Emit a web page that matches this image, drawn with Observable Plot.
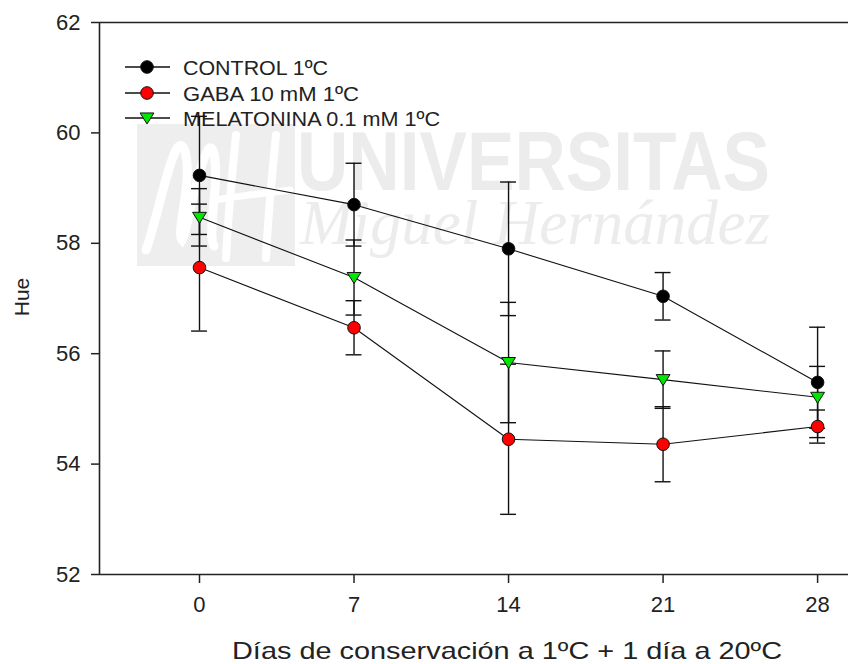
<!DOCTYPE html>
<html>
<head>
<meta charset="utf-8">
<script src="https://cdn.jsdelivr.net/npm/d3@7"></script>
<script src="https://cdn.jsdelivr.net/npm/@observablehq/plot@0.6"></script>
<style>
  html, body { margin: 0; padding: 0; background: #fff; }
  #wrap { position: relative; width: 848px; height: 664px; overflow: hidden; }
  #back, #chart { position: absolute; left: 0; top: 0; }
  #chart svg { background: transparent; }
</style>
</head>
<body>
<div id="wrap">
  <svg id="back" width="848" height="664"></svg>
  <div id="chart"></div>
</div>
<script>
// ---- data ----
const days = [0, 7, 14, 21, 28];
const seriesNames = ["CONTROL 1ºC", "GABA 10 mM  1ºC", "MELATONINA 0.1 mM 1ºC"];
const controlHue = [59.23, 58.70, 57.90, 57.04, 55.48];
const controlErr = [1.07, 0.75, 1.21, 0.43, 1.00];
const gabaHue = [57.56, 56.47, 54.45, 54.36, 54.68];
const gabaErr = [1.15, 0.49, 1.36, 0.68, 0.30];
const melHue = [58.47, 57.38, 55.84, 55.53, 55.21];
const melErr = [0.52, 0.68, 1.09, 0.52, 0.56];
const yTicks = [52, 54, 56, 58, 60, 62];
const xTitle = "Días de conservación a 1ºC + 1 día a 20ºC";
const yTitle = "Hue";

const seriesFill = ["#000000", "#ff0000", "#00e600"];
const hues = [controlHue, gabaHue, melHue];
const errs = [controlErr, gabaErr, melErr];

const rows = [];
seriesNames.forEach((s, i) => {
  days.forEach((d, j) => rows.push({series: s, idx: i, day: d, hue: hues[i][j], err: errs[i][j]}));
});

const xDomain = [-4.53, 29.4];
const yDomain = [52, 62];
const capHalf = 0.36;

const triangleDown = {
  draw(context, size) {
    const s = Math.sqrt(size / Math.PI);
    context.moveTo(-1.1 * s, -0.8 * s);
    context.lineTo(1.1 * s, -0.8 * s);
    context.lineTo(0, 0.95 * s);
    context.closePath();
  }
};

const font = "'Liberation Sans', Arial, sans-serif";

const chart = Plot.plot({
  width: 848,
  height: 664,
  marginLeft: 99,
  marginRight: 0,
  marginTop: 22,
  marginBottom: 90,
  style: {background: "transparent", color: "#222", fontFamily: font, fontSize: "22px"},
  x: {domain: xDomain, label: null},
  y: {domain: yDomain, label: null},
  marks: [
    Plot.axisY({ticks: yTicks, tickSize: 8, tickPadding: 11, fontSize: 22, label: null, stroke: "#222", strokeWidth: 1.5}),
    Plot.axisX({ticks: days, tickSize: 9, tickPadding: 13, fontSize: 22, label: null, stroke: "#222", strokeWidth: 1.5}),
    Plot.ruleY([yDomain[0], yDomain[1]], {stroke: "#222", strokeWidth: 1.6}),
    Plot.ruleX([xDomain[0]], {stroke: "#222", strokeWidth: 1.6}),
    Plot.line(rows, {x: "day", y: "hue", z: "series", stroke: "#111", strokeWidth: 1.1}),
    Plot.ruleX(rows, {x: "day", y1: d => d.hue - d.err, y2: d => d.hue + d.err, stroke: "#111", strokeWidth: 1.4}),
    Plot.ruleY(rows, {y: d => d.hue - d.err, x1: d => d.day - capHalf, x2: d => d.day + capHalf, stroke: "#111", strokeWidth: 1.4}),
    Plot.ruleY(rows, {y: d => d.hue + d.err, x1: d => d.day - capHalf, x2: d => d.day + capHalf, stroke: "#111", strokeWidth: 1.4}),
    Plot.dot(rows.filter(d => d.idx < 2), {x: "day", y: "hue", r: 6.3, symbol: "circle", fill: d => seriesFill[d.idx], stroke: "#111", strokeWidth: 1}),
    Plot.dot(rows.filter(d => d.idx === 2), {x: "day", y: "hue", r: 6.3, symbol: triangleDown, fill: seriesFill[2], stroke: "#111", strokeWidth: 1})
  ]
});
document.getElementById("chart").appendChild(chart);

// ---- background watermark, legend and axis titles ----
const back = d3.select("#back");
const wm = "#ececec";
back.append("rect").attr("x", 137).attr("y", 124).attr("width", 158).attr("height", 142).attr("fill", "#eeeeee");
const logo = back.append("g").attr("fill", "none").attr("stroke", "#ffffff").attr("stroke-linecap", "round");
logo.append("path").attr("d", "M146,250 C158,215 166,170 176,150 C184,135 190,160 186,190 C183,215 178,235 182,240 C188,230 196,170 208,150 C214,140 218,165 214,200 C212,222 210,240 214,246").attr("stroke-width", 9);
logo.append("path").attr("d", "M236,135 C232,175 228,215 226,258").attr("stroke-width", 8);
logo.append("path").attr("d", "M276,135 C272,175 268,215 266,258").attr("stroke-width", 8);
logo.append("path").attr("d", "M216,200 C236,196 260,194 290,190").attr("stroke-width", 7);

back.append("text").attr("x", 297).attr("y", 190).attr("font-family", font).attr("font-weight", "bold")
  .attr("font-size", 83).attr("fill", wm).attr("textLength", 473).attr("lengthAdjust", "spacingAndGlyphs").text("UNIVERSITAS");
back.append("text").attr("x", 300).attr("y", 244).attr("font-family", "'Liberation Serif', serif").attr("font-style", "italic")
  .attr("font-size", 64).attr("fill", wm).attr("textLength", 470).attr("lengthAdjust", "spacingAndGlyphs").text("Miguel Hernández");

// legend
const legY = [67, 93, 118];
const legLen = [145, 176, 257];
seriesNames.forEach((s, i) => {
  const y = legY[i];
  back.append("line").attr("x1", 125).attr("x2", 170).attr("y1", y).attr("y2", y).attr("stroke", "#111").attr("stroke-width", 1.3);
  if (i < 2) {
    back.append("circle").attr("cx", 147).attr("cy", y).attr("r", 6.3).attr("fill", seriesFill[i]).attr("stroke", "#111");
  } else {
    const p = d3.path();
    triangleDown.draw(p, 6.3 * 6.3 * Math.PI);
    back.append("path").attr("d", p.toString()).attr("transform", `translate(147,${y})`).attr("fill", seriesFill[i]).attr("stroke", "#111");
  }
  back.append("text").attr("x", 183).attr("y", y + 7.5).attr("font-family", font).attr("font-size", 20.5).attr("fill", "#222")
    .attr("textLength", legLen[i]).attr("lengthAdjust", "spacingAndGlyphs").text(s);
});

// axis titles
back.append("text").attr("x", 507).attr("y", 659).attr("text-anchor", "middle").attr("font-family", font)
  .attr("font-size", 24).attr("fill", "#222").attr("textLength", 550).attr("lengthAdjust", "spacingAndGlyphs").text(xTitle);
back.append("text").attr("transform", "translate(29,297) rotate(-90)").attr("text-anchor", "middle").attr("font-family", font)
  .attr("font-size", 21).attr("fill", "#222").text(yTitle);
</script>
</body>
</html>
